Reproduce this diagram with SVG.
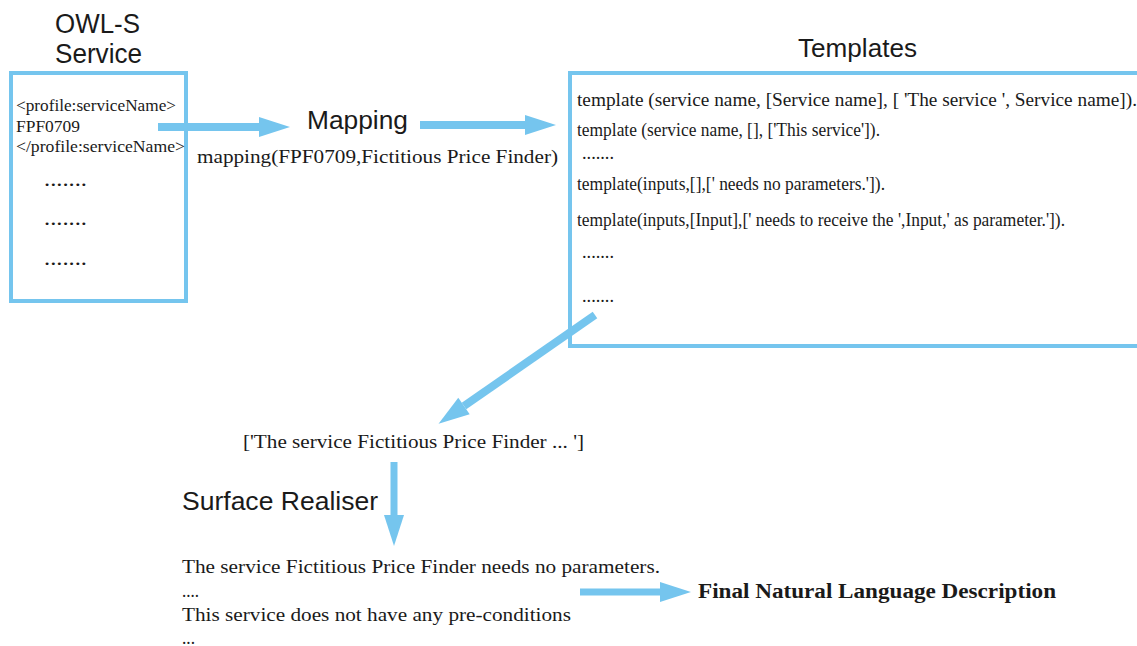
<svg xmlns="http://www.w3.org/2000/svg" width="1137" height="646" viewBox="0 0 1137 646">
<style>
.box{fill:none;stroke:#75C5EE;stroke-width:4}
.conn{stroke:#75C5EE;stroke-width:8;fill:none;marker-end:url(#ah)}
.h{font-family:"Liberation Sans",Arial,sans-serif;fill:#1a1a1a}
.t{font-family:"Liberation Serif","Times New Roman",serif;fill:#1a1a1a}
</style>
<defs>
<marker id="ah" markerUnits="userSpaceOnUse" markerWidth="34" markerHeight="22" refX="0" refY="10" orient="auto" overflow="visible">
<path d="M0,0 L31,10 L0,20 Z" fill="#75C5EE"/>
</marker>
</defs>
<rect width="1137" height="646" fill="#fff"/>
<g id="owls">
<rect class="box" x="11" y="73" width="175" height="228"/>
<text class="h" x="55" y="33" font-size="27" textLength="85" lengthAdjust="spacingAndGlyphs">OWL-S</text>
<text class="h" x="55" y="63" font-size="27" textLength="87" lengthAdjust="spacingAndGlyphs">Service</text>
<text class="t" x="16" y="111" font-size="16" textLength="160" lengthAdjust="spacingAndGlyphs">&lt;profile:serviceName&gt;</text>
<text class="t" x="16" y="132" font-size="16" textLength="64" lengthAdjust="spacingAndGlyphs">FPF0709</text>
<text class="t" x="16" y="152" font-size="16" textLength="169" lengthAdjust="spacingAndGlyphs">&lt;/profile:serviceName&gt;</text>
<text class="t" x="44" y="186" font-size="20" textLength="43" lengthAdjust="spacingAndGlyphs">.......</text>
<text class="t" x="44" y="225" font-size="20" textLength="43" lengthAdjust="spacingAndGlyphs">.......</text>
<text class="t" x="44" y="265" font-size="20" textLength="43" lengthAdjust="spacingAndGlyphs">.......</text>
</g>
<g id="mapping">
<text class="h" x="307" y="129" font-size="25" textLength="101" lengthAdjust="spacingAndGlyphs">Mapping</text>
<text class="t" x="197" y="163" font-size="19" textLength="361" lengthAdjust="spacingAndGlyphs">mapping(FPF0709,Fictitious Price Finder)</text>
</g>
<g id="templates">
<text class="h" x="798" y="57" font-size="26" textLength="119" lengthAdjust="spacingAndGlyphs">Templates</text>
<rect class="box" x="570" y="73" width="580" height="273"/>
<text class="t" x="577" y="106" font-size="18.5" textLength="560" lengthAdjust="spacingAndGlyphs">template (service name, [Service name], [ 'The service ', Service name]).</text>
<text class="t" x="577" y="136" font-size="18.5" textLength="303" lengthAdjust="spacingAndGlyphs">template (service name, [], ['This service']).</text>
<text class="t" x="582" y="159" font-size="18.5" textLength="32" lengthAdjust="spacingAndGlyphs">.......</text>
<text class="t" x="577" y="190" font-size="18.5" textLength="308" lengthAdjust="spacingAndGlyphs">template(inputs,[],[' needs no parameters.']).</text>
<text class="t" x="577" y="226" font-size="18.5" textLength="488" lengthAdjust="spacingAndGlyphs">template(inputs,[Input],[' needs to receive the ',Input,' as parameter.']).</text>
<text class="t" x="582" y="258" font-size="18.5" textLength="32" lengthAdjust="spacingAndGlyphs">.......</text>
<text class="t" x="582" y="302" font-size="18.5" textLength="32" lengthAdjust="spacingAndGlyphs">.......</text>
</g>
<g id="intermediate">
<text class="t" x="243" y="448" font-size="19.5" textLength="341" lengthAdjust="spacingAndGlyphs">['The service Fictitious Price Finder ... ']</text>
</g>
<g id="surface">
<text class="h" x="182" y="510" font-size="25" textLength="196" lengthAdjust="spacingAndGlyphs">Surface Realiser</text>
</g>
<g id="output">
<text class="t" x="182" y="573" font-size="19.5" textLength="478" lengthAdjust="spacingAndGlyphs">The service Fictitious Price Finder needs no parameters.</text>
<text class="t" x="182" y="597" font-size="19.5" textLength="17" lengthAdjust="spacingAndGlyphs">....</text>
<text class="t" x="182" y="621" font-size="19.5" textLength="389" lengthAdjust="spacingAndGlyphs">This service does not have any pre-conditions</text>
<text class="t" x="182" y="644" font-size="19.5" textLength="13" lengthAdjust="spacingAndGlyphs">...</text>
</g>
<g id="final">
<text class="t" x="698" y="598" font-size="20" font-weight="bold" textLength="358" lengthAdjust="spacingAndGlyphs">Final Natural Language Description</text>
</g>
<g id="connectors">
<line class="conn" x1="158" y1="127" x2="259" y2="127"/>
<line class="conn" x1="420" y1="125" x2="525" y2="125"/>
<line class="conn" x1="595" y1="315" x2="464" y2="406"/>
<line class="conn" x1="394" y1="462" x2="394" y2="515" style="stroke-width:7"/>
<line class="conn" x1="580" y1="592" x2="660" y2="592" style="stroke-width:7"/>
</g>
</svg>
